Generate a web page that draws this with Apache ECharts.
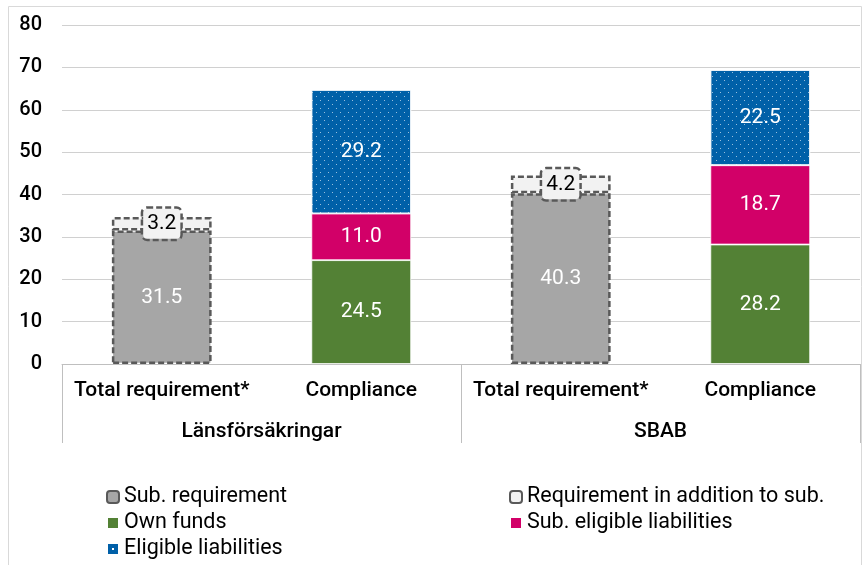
<!DOCTYPE html>
<html>
<head>
<meta charset="utf-8">
<script src="https://cdn.jsdelivr.net/npm/echarts@6/dist/echarts.min.js"></script>
<style>
  html, body { margin: 0; padding: 0; background: #fff; }
  #chart { width: 864px; height: 565px; }
</style>
</head>
<body>
<div id="chart"></div>
<script>
    // categories
    var bars = ['Total requirement*', 'Compliance', 'Total requirement*', 'Compliance'];
    var groups = ['Länsförsäkringar', 'SBAB'];
    var yTicks = [0, 10, 20, 30, 40, 50, 60, 70, 80];

    // series values (billions), '-' where a bar has no such part
    var subRequirement = [31.5, '-', 40.3, '-'];
    var additionToSub = [3.2, '-', 4.2, '-'];
    var ownFunds = ['-', 24.5, '-', 28.2];
    var subEligible = ['-', 11.0, '-', 18.7];
    var eligible = ['-', 29.2, '-', 22.5];

    var font = 'Roboto';
    var chart = echarts.init(document.getElementById('chart'));

    var dots = {
        symbol: 'rect',
        symbolSize: 1,
        color: 'rgba(255,255,255,0.6)',
        dashArrayX: [[1, 7], [0, 4, 1, 3]],
        dashArrayY: [1, 3]
    };

    function fmt(p) { return p.value.toFixed(1); }

    var legendText = { fontFamily: font, fontSize: 21.5, color: '#000' };

    var option = {
        animation: false,
        textStyle: { fontFamily: font },
        graphic: [{
            type: 'rect',
            shape: { x: 8.5, y: 6.5, width: 853, height: 580 },
            style: { fill: 'none', stroke: '#d9d9d9', lineWidth: 1 },
            silent: true
        }],
        grid: { left: 62, right: 4, top: 25, bottom: 201 },
        legend: [{
            orient: 'vertical',
            left: 106,
            top: 486,
            padding: 0,
            itemWidth: 12,
            itemHeight: 12,
            itemGap: 4,
            textStyle: legendText,
            data: [
                { name: 'Sub. requirement', icon: 'roundRect' },
                { name: 'Own funds', icon: 'rect' },
                {
                    name: 'Eligible liabilities', icon: 'rect',
                    itemStyle: {
                        decal: {
                            symbol: 'rect', symbolSize: 1, color: '#fff',
                            dashArrayX: [[0, 5, 2, 5]], dashArrayY: [0, 5, 2, 5]
                        }
                    }
                }
            ]
        }, {
            orient: 'vertical',
            left: 509,
            top: 486,
            padding: 0,
            itemWidth: 12,
            itemHeight: 12,
            itemGap: 4,
            textStyle: legendText,
            data: [
                { name: 'Requirement in addition to sub.', icon: 'roundRect' },
                { name: 'Sub. eligible liabilities', icon: 'rect' }
            ]
        }],
        xAxis: [{
            type: 'category',
            data: bars,
            axisLine: { lineStyle: { color: '#bfbfbf', width: 1 } },
            axisTick: { show: false },
            axisLabel: { margin: 16, fontSize: 21, fontWeight: 500, color: '#000', interval: 0 }
        }, {
            type: 'category',
            data: groups,
            position: 'bottom',
            axisLine: { show: false },
            axisTick: { show: true, length: 79, lineStyle: { color: '#bfbfbf' } },
            axisLabel: { margin: 57, fontSize: 21, fontWeight: 500, color: '#000' },
            splitLine: { show: false }
        }],
        yAxis: {
            type: 'value',
            min: yTicks[0],
            max: yTicks[yTicks.length - 1],
            interval: 10,
            axisLine: { show: false },
            axisTick: { show: false },
            axisLabel: { margin: 20, fontSize: 20, fontWeight: 500, color: '#000' },
            splitLine: { lineStyle: { color: '#d0d0d0', width: 1 } }
        },
        series: [{
            name: 'Sub. requirement',
            type: 'bar',
            stack: 'a',
            barWidth: '50%',
            data: subRequirement,
            itemStyle: { color: '#a6a6a6', borderColor: '#595959', borderWidth: 2.5, borderType: [6, 3] },
            label: { show: true, position: 'inside', formatter: fmt, color: '#fff', fontSize: 21, fontFamily: font }
        }, {
            name: 'Requirement in addition to sub.',
            type: 'bar',
            stack: 'a',
            data: additionToSub,
            itemStyle: { color: '#f2f2f2', borderColor: '#595959', borderWidth: 2.5, borderType: [6, 3] },
            label: {
                show: true, position: 'inside', formatter: fmt, color: '#000', fontSize: 21, fontFamily: font,
                backgroundColor: '#f2f2f2', borderColor: '#595959', borderWidth: 2.5, borderType: [6, 3],
                borderRadius: 4, padding: [5, 4, 4, 4]
            }
        }, {
            name: 'Own funds',
            type: 'bar',
            stack: 'a',
            data: ownFunds,
            itemStyle: { color: '#538135', borderColor: '#fff', borderWidth: 0.8 },
            label: { show: true, position: 'inside', formatter: fmt, color: '#fff', fontSize: 21, fontFamily: font }
        }, {
            name: 'Sub. eligible liabilities',
            type: 'bar',
            stack: 'a',
            data: subEligible,
            itemStyle: { color: '#d20068', borderColor: '#fff', borderWidth: 0.8 },
            label: { show: true, position: 'inside', formatter: fmt, color: '#fff', fontSize: 21, fontFamily: font }
        }, {
            name: 'Eligible liabilities',
            type: 'bar',
            stack: 'a',
            data: eligible,
            itemStyle: { color: '#0060a8', borderColor: '#fff', borderWidth: 0.8, decal: dots },
            label: { show: true, position: 'inside', formatter: fmt, color: '#fff', fontSize: 21, fontFamily: font }
        }]
    };

    chart.setOption(option);
</script>
</body>
</html>
